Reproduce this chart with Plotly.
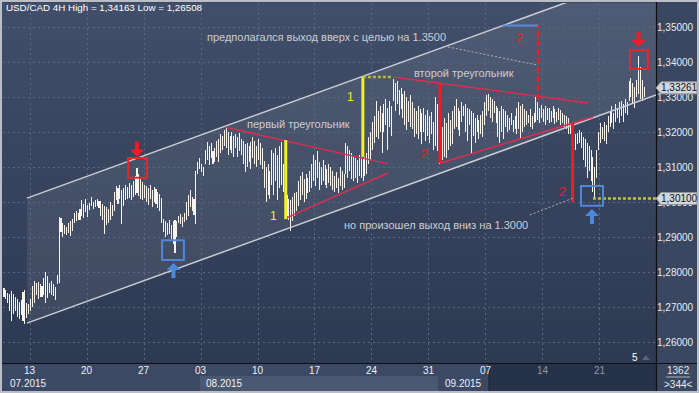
import plotly.graph_objects as go

# ---------------- data (USD/CAD 4H, bar index from left) ----------------
HIGH = [
1.2754,1.2748,1.2741,1.2736,1.2745,1.2738,1.2728,1.2722,1.2713,1.2720,1.2742,1.2748,1.2712,1.2710,1.2724,1.2760,1.2775,1.2768,1.2771,1.2765,
1.2760,1.2783,1.2800,1.2790,1.2770,1.2775,1.2765,1.2758,1.2792,1.2957,1.2955,1.2940,1.2935,1.2928,1.2940,1.2945,1.2952,1.2968,1.2975,1.2970,
1.2980,1.3005,1.2995,1.3008,1.2992,1.2998,1.3015,1.3000,1.3005,1.3010,1.3002,1.3003,1.2995,1.2990,1.2985,1.2980,1.3000,1.2992,1.3030,1.3045,
1.3040,1.3050,1.3035,1.3040,1.3048,1.3042,1.3055,1.3048,1.3060,1.3075,1.3097,1.3080,1.3065,1.3058,1.3050,1.3045,1.3040,1.3048,1.3035,1.3042,
1.3038,1.3030,1.3022,1.3012,1.2952,1.2945,1.2940,1.2950,1.2935,1.2945,1.2950,1.2945,1.2960,1.2965,1.2958,1.2970,1.3000,1.3020,1.3035,1.3015,
1.3010,1.3088,1.3115,1.3125,1.3110,1.3100,1.3150,1.3172,1.3160,1.3168,1.3145,1.3155,1.3175,1.3180,1.3195,1.3188,1.3205,1.3212,1.3200,1.3190,
1.3200,1.3190,1.3195,1.3185,1.3198,1.3180,1.3175,1.3165,1.3170,1.3160,1.3172,1.3185,1.3175,1.3160,1.3180,1.3168,1.3155,1.3118,1.3100,1.3110,
1.3090,1.3150,1.3140,1.3155,1.3135,1.3160,1.3172,1.3110,1.3080,1.3020,1.3010,1.3005,1.3015,1.3025,1.3030,1.3060,1.3075,1.3085,1.3065,1.3080,
1.3070,1.3090,1.3110,1.3135,1.3120,1.3145,1.3115,1.3100,1.3120,1.3105,1.3095,1.3110,1.3100,1.3090,1.3075,1.3085,1.3070,1.3100,1.3090,1.3080,
1.3170,1.3160,1.3150,1.3140,1.3130,1.3125,1.3120,1.3135,1.3128,1.3122,1.3130,1.3140,1.3185,1.3200,1.3230,1.3245,1.3288,1.3260,1.3275,1.3255,
1.3280,1.3295,1.3270,1.3290,1.3275,1.3351,1.3340,1.3345,1.3320,1.3325,1.3310,1.3318,1.3300,1.3290,1.3305,1.3285,1.3270,1.3260,1.3275,1.3265,
1.3255,1.3270,1.3250,1.3262,1.3245,1.3258,1.3230,1.3300,1.3280,1.3230,1.3220,1.3215,1.3240,1.3225,1.3255,1.3235,1.3260,1.3275,1.3295,1.3270,
1.3260,1.3285,1.3275,1.3280,1.3270,1.3265,1.3260,1.3255,1.3240,1.3250,1.3235,1.3248,1.3260,1.3285,1.3305,1.3310,1.3300,1.3295,1.3290,1.3275,
1.3270,1.3260,1.3275,1.3265,1.3260,1.3250,1.3240,1.3255,1.3235,1.3245,1.3270,1.3285,1.3275,1.3280,1.3265,1.3260,1.3250,1.3265,1.3245,1.3255,
1.3300,1.3285,1.3270,1.3278,1.3265,1.3275,1.3268,1.3270,1.3260,1.3275,1.3265,1.3258,1.3268,1.3262,1.3255,1.3250,1.3245,1.3240,1.3225,1.3200,
1.3190,1.3195,1.3198,1.3205,1.3200,1.3185,1.3180,1.3170,1.3160,1.3150,1.3130,1.3100,1.3150,1.3200,1.3225,1.3215,1.3230,1.3220,1.3245,1.3260,
1.3275,1.3255,1.3280,1.3270,1.3285,1.3290,1.3280,1.3295,1.3285,1.3345,1.3355,1.3340,1.3330,1.3350,1.3416,1.3385,1.3350,1.3330]
LOW = [
1.2728,1.2722,1.2712,1.2690,1.2660,1.2680,1.2688,1.2671,1.2667,1.2676,1.2660,1.2651,1.2668,1.2680,1.2690,1.2700,1.2712,1.2735,1.2722,1.2728,
1.2730,1.2735,1.2712,1.2726,1.2740,1.2735,1.2732,1.2720,1.2765,1.2770,1.2915,1.2900,1.2908,1.2905,1.2912,1.2902,1.2918,1.2940,1.2945,1.2950,
1.2948,1.2960,1.2955,1.2972,1.2958,1.2978,1.2990,1.2980,1.2985,1.2988,1.2982,1.2960,1.2950,1.2910,1.2935,1.2940,1.2950,1.2960,1.2975,1.3005,
1.2995,1.3010,1.2938,1.2990,1.3005,1.3008,1.3012,1.3005,1.3015,1.3020,1.3025,1.3018,1.3010,1.3006,1.3012,1.3000,1.2992,1.3010,1.2985,1.3000,
1.2995,1.2982,1.2975,1.2940,1.2915,1.2900,1.2905,1.2910,1.2895,1.2880,1.2854,1.2900,1.2940,1.2938,1.2930,1.2942,1.2950,1.2960,1.2985,1.2975,
1.2962,1.2938,1.3080,1.3095,1.3085,1.3075,1.3110,1.3120,1.3105,1.3125,1.3108,1.3115,1.3130,1.3115,1.3140,1.3150,1.3160,1.3155,1.3135,1.3150,
1.3140,1.3130,1.3155,1.3128,1.3145,1.3135,1.3110,1.3085,1.3100,1.3115,1.3095,1.3125,1.3110,1.3100,1.3120,1.3105,1.3095,1.3040,1.3000,1.3020,
1.3010,1.3050,1.3020,1.3060,1.3005,1.3040,1.3050,1.3030,1.2985,1.2960,1.2950,1.2918,1.2945,1.2960,1.2975,1.2990,1.3005,1.3020,1.3000,1.3010,
1.3025,1.3030,1.3040,1.3060,1.3045,1.3070,1.3035,1.3050,1.3060,1.3050,1.3040,1.3055,1.3045,1.3035,1.3030,1.3040,1.3025,1.3045,1.3035,1.3040,
1.3080,1.3070,1.3090,1.3065,1.3060,1.3070,1.3055,1.3075,1.3068,1.3060,1.3075,1.3080,1.3110,1.3120,1.3150,1.3170,1.3185,1.3180,1.3200,1.3140,
1.3200,1.3220,1.3150,1.3215,1.3190,1.3290,1.3260,1.3280,1.3250,1.3265,1.3240,1.3220,1.3205,1.3230,1.3215,1.3210,1.3185,1.3195,1.3180,1.3200,
1.3165,1.3200,1.3175,1.3190,1.3170,1.3195,1.3150,1.3160,1.3145,1.3110,1.3112,1.3120,1.3130,1.3125,1.3150,1.3160,1.3165,1.3210,1.3215,1.3205,
1.3190,1.3230,1.3245,1.3200,1.3175,1.3220,1.3137,1.3190,1.3170,1.3200,1.3180,1.3195,1.3185,1.3220,1.3245,1.3260,1.3240,1.3230,1.3255,1.3225,
1.3185,1.3170,1.3200,1.3180,1.3215,1.3200,1.3205,1.3220,1.3200,1.3210,1.3195,1.3210,1.3180,1.3200,1.3215,1.3220,1.3225,1.3215,1.3210,1.3225,
1.3230,1.3235,1.3225,1.3240,1.3230,1.3220,1.3235,1.3225,1.3230,1.3240,1.3222,1.3228,1.3235,1.3220,1.3225,1.3215,1.3210,1.3195,1.3195,1.3165,
1.3160,1.3150,1.3165,1.3170,1.3155,1.3120,1.3100,1.3068,1.3090,1.3060,1.3030,1.3012,1.3070,1.3150,1.3170,1.3180,1.3175,1.3165,1.3200,1.3215,
1.3225,1.3210,1.3230,1.3240,1.3225,1.3245,1.3230,1.3255,1.3250,1.3290,1.3300,1.3280,1.3270,1.3300,1.3310,1.3295,1.3288,1.3300]
BAR_INDEX = list(range(len(HIGH)))

SYMBOL_TITLE = "USD/CAD 4H High = 1,34163 Low = 1,26508"
LAST_PRICE = 1.33261
MARK_PRICE = 1.30100
PRICE_TICKS = [1.26, 1.27, 1.28, 1.29, 1.30, 1.31, 1.32, 1.33, 1.34, 1.35]
PRICE_LABELS = ["1,26000", "1,27000", "1,28000", "1,29000", "1,30000",
                "1,31000", "1,32000", "1,33000", "1,34000", "1,35000"]
DAY_TICKS = [13.7, 43.7, 73.7, 103.7, 133.7, 163.7, 193.7, 223.7, 253.7, 283.7, 313.7]
DAY_LABELS = ["13", "20", "27", "03", "10", "17", "24", "31", "07", "14", "21"]
MONTH_POS = [2.1, 105.3, 231.0]
MONTH_LABELS = ["07.2015", "08.2015", "09.2015"]

# channel and pattern drawings (bar index, price)
CHANNEL_X = [12.1, 343.2]
CHANNEL_LOWER = [1.2654, 1.3306]
CHANNEL_UPPER = [1.3011, 1.3663]
TRI1_UPPER = [(116.3, 1.3214), (202.1, 1.3109)]
TRI1_LOWER = [(148.4, 1.2954), (202.1, 1.3083)]
TRI2_UPPER = [(204.7, 1.3357), (307.4, 1.3283)]
TRI2_LOWER = [(229.5, 1.3111), (310.0, 1.3243)]

X_RANGE = [-0.526, 343.2]
Y_RANGE = [1.2540, 1.35686]

W, H = 699, 393
PL, PR, PT, PB = 3, 656, 3, 363   # plot area in pixels


def PX(x):
    return (x - PL) / (PR - PL)


def PY(y):
    return (PB - y) / (PB - PT)


fig = go.Figure()
fig.add_trace(go.Bar(
    x=BAR_INDEX, y=[h - l for h, l in zip(HIGH, LOW)], base=LOW,
    width=0.55, marker=dict(color="rgba(250,246,240,0.99)", line=dict(width=0)),
    hoverinfo="skip", showlegend=False))

shapes = []
# frame / panels
shapes.append(dict(type="rect", xref="paper", yref="paper", layer="below",
                   x0=PX(2), x1=PX(697), y0=PY(2), y1=PY(391),
                   fillcolor="#3a4761", line=dict(width=0)))
# plot background gradient bands
top_c = (0x41, 0x4e, 0x69)
bot_c = (0x2e, 0x39, 0x52)
NB = 30
for k in range(NB):
    t = k / (NB - 1)
    c = tuple(int(round(top_c[j] + (bot_c[j] - top_c[j]) * t)) for j in range(3))
    y0 = PT + (PB - PT) * k / NB
    y1 = PT + (PB - PT) * (k + 1) / NB
    shapes.append(dict(type="rect", xref="paper", yref="paper", layer="below",
                       x0=PX(2), x1=PX(656), y0=PY(y0), y1=PY(y1 + 0.5),
                       fillcolor="rgb(%d,%d,%d)" % c, line=dict(width=0)))
# bottom strip
shapes.append(dict(type="rect", xref="paper", yref="paper", layer="below",
                   x0=PX(2), x1=PX(656), y0=PY(364), y1=PY(391),
                   fillcolor="#3c4964", line=dict(width=0)))
shapes.append(dict(type="rect", xref="paper", yref="paper", layer="below",
                   x0=PX(200), x1=PX(438), y0=PY(376), y1=PY(391),
                   fillcolor="#4b5872", line=dict(width=0)))
shapes.append(dict(type="rect", xref="paper", yref="paper", layer="below",
                   x0=PX(489), x1=PX(656), y0=PY(364), y1=PY(391),
                   fillcolor="#26314a", line=dict(width=0)))
shapes.append(dict(type="line", xref="paper", yref="paper", layer="above",
                   x0=PX(489), x1=PX(489), y0=PY(364), y1=PY(391),
                   line=dict(color="#1a1f2c", width=1)))
shapes.append(dict(type="line", xref="paper", yref="paper", layer="above",
                   x0=PX(2), x1=PX(697), y0=PY(363.5), y1=PY(363.5),
                   line=dict(color="#0c0f16", width=1.2)))
shapes.append(dict(type="line", xref="paper", yref="paper", layer="above",
                   x0=PX(656.5), x1=PX(656.5), y0=PY(2), y1=PY(391),
                   line=dict(color="#0c0f16", width=1.2)))
shapes.append(dict(type="line", xref="paper", yref="paper", layer="above",
                   x0=PX(666), x1=PX(690), y0=PY(377), y1=PY(377),
                   line=dict(color="#aab2c2", width=1)))

# channel fill and lines
shapes.append(dict(type="path", xref="x", yref="y", layer="below",
                   path="M %g,%g L %g,%g L %g,%g L %g,%g Z" % (
                       CHANNEL_X[0], CHANNEL_LOWER[0], CHANNEL_X[1], CHANNEL_LOWER[1],
                       CHANNEL_X[1], CHANNEL_UPPER[1], CHANNEL_X[0], CHANNEL_UPPER[0]),
                   fillcolor="rgba(255,255,255,0.075)", line=dict(width=0)))
for arr in (CHANNEL_LOWER, CHANNEL_UPPER):
    shapes.append(dict(type="line", xref="x", yref="y", layer="above",
                       x0=CHANNEL_X[0], x1=CHANNEL_X[1], y0=arr[0], y1=arr[1],
                       line=dict(color="#c9cdd4", width=1.5)))

# triangles
for seg in (TRI1_UPPER, TRI1_LOWER, TRI2_UPPER, TRI2_LOWER):
    shapes.append(dict(type="line", xref="x", yref="y", layer="above",
                       x0=seg[0][0], y0=seg[0][1], x1=seg[1][0], y1=seg[1][1],
                       line=dict(color="#dc2d50", width=1.5)))

# measuring lines
def vline(x, y0, y1, color, width, dash="solid"):
    shapes.append(dict(type="line", xref="x", yref="y", layer="above",
                       x0=x, x1=x, y0=y0, y1=y1,
                       line=dict(color=color, width=width, dash=dash)))


def hline(x0, x1, y, color, width, dash="solid"):
    shapes.append(dict(type="line", xref="x", yref="y", layer="above",
                       x0=x0, x1=x1, y0=y, y1=y,
                       line=dict(color=color, width=width, dash=dash)))


vline(148.3, 1.2951, 1.3177, "#f2f21e", 3)
vline(188.9, 1.3129, 1.3357, "#f2f21e", 3)
hline(188.9, 204.2, 1.3357, "#b9b93c", 2.5, "3px,2px")
vline(229.5, 1.3111, 1.3338, "#ee1c24", 3)
vline(281.1, 1.3292, 1.3506, "#ee1c24", 2.5, "6px,3px")
hline(262.6, 281.1, 1.3504, "#5b8ad6", 2)
vline(299.3, 1.3000, 1.3226, "#ee1c24", 3)
hline(310.0, 343.2, MARK_PRICE, "#c4c43a", 2.5, "3px,2px")
# gray dotted pointers
shapes.append(dict(type="line", xref="x", yref="y", layer="above",
                   x0=233.7, y0=1.3443, x1=281.1, y1=1.3391,
                   line=dict(color="#aeb3bd", width=1, dash="2px,2px")))
shapes.append(dict(type="line", xref="x", yref="y", layer="above",
                   x0=276.8, y0=1.2963, x1=299.5, y1=1.3011,
                   line=dict(color="#aeb3bd", width=1, dash="2px,2px")))

# boxes
for (x0, x1, y0, y1, col) in [(65.3, 75.3, 1.3069, 1.3126, "#e8262c"),
                              (329.5, 338.9, 1.3380, 1.3434, "#e8262c"),
                              (83.2, 94.7, 1.2834, 1.2891, "#4f88da"),
                              (303.7, 315.3, 1.2989, 1.3046, "#4f88da")]:
    shapes.append(dict(type="rect", xref="x", yref="y", layer="above",
                       x0=x0, x1=x1, y0=y0, y1=y1,
                       line=dict(color=col, width=2), fillcolor="rgba(0,0,0,0)"))

DOWN_ARROW = "M -2,15 L 2,15 L 2,7 L 7,7 L 0,0 L -7,7 L -2,7 Z"
UP_ARROW = "M -2,-15 L 2,-15 L 2,-7 L 7,-7 L 0,0 L -7,-7 L -2,-7 Z"
for (xa, ya, p, col) in [(70.0, 1.3129, DOWN_ARROW, "#ee1c24"),
                         (334.0, 1.3443, DOWN_ARROW, "#ee1c24"),
                         (89.2, 1.2826, UP_ARROW, "#4f88da"),
                         (309.5, 1.2980, UP_ARROW, "#4f88da")]:
    shapes.append(dict(type="path", xref="x", yref="y", layer="above",
                       xsizemode="pixel", ysizemode="pixel", xanchor=xa, yanchor=ya,
                       path=p, fillcolor=col, line=dict(width=0)))

# price tags on the right axis
TAG = "M 0,0 L 5,6 L 41,6 L 41,-6 L 5,-6 Z"
for pr in (LAST_PRICE, MARK_PRICE):
    shapes.append(dict(type="path", xref="paper", yref="y", layer="above",
                       xsizemode="pixel", ysizemode="pixel", xanchor=1.0, yanchor=pr,
                       path=TAG, fillcolor="#d3d6db", line=dict(color="#8e939c", width=1)))
# small triangle near the "5"
shapes.append(dict(type="path", xref="paper", yref="paper", layer="above",
                   xsizemode="pixel", ysizemode="pixel", xanchor=PX(646), yanchor=PY(357),
                   path="M -4,-3 L 4,-3 L 0,2 Z", fillcolor="#59627a", line=dict(width=0)))

annotations = []
FONT = "Liberation Sans, Arial, sans-serif"


def txt(x, y, s, color, size, xref="x", yref="y", xanchor="left", yanchor="middle"):
    annotations.append(dict(x=x, y=y, xref=xref, yref=yref, text=s, showarrow=False,
                            xanchor=xanchor, yanchor=yanchor,
                            font=dict(family=FONT, size=size, color=color)))


txt(PX(4), PY(8), SYMBOL_TITLE, "#ffffff", 9.8, "paper", "paper")
txt(105.8, 1.3471, "предполагался выход вверх с целью на 1.3500", "#c9cdd5", 11)
txt(214.7, 1.3369, "второй треугольник", "#c9cdd5", 11)
txt(126.8, 1.3223, "первый треугольник", "#c9cdd5", 11)
txt(177.9, 1.2934, "но произошел выход вниз на 1.3000", "#c9cdd5", 11)
txt(142.1, 1.2961, "1", "#f2f21e", 12, xanchor="center")
txt(182.5, 1.3301, "1", "#f2f21e", 12, xanchor="center")
txt(221.6, 1.3140, "2", "#ee1c24", 13, xanchor="center")
txt(271.6, 1.3469, "2", "#ee1c24", 13, xanchor="center")
txt(294.1, 1.3031, "2", "#ee1c24", 13, xanchor="center")

for pr, s in ((LAST_PRICE, "1,33261"), (MARK_PRICE, "1,30100")):
    annotations.append(dict(x=1.0, y=pr, xref="paper", yref="y", text=s, showarrow=False,
                            xanchor="center", yanchor="middle", xshift=23,
                            font=dict(family=FONT, size=10, color="#111111")))

for pos, lab in zip(DAY_TICKS, DAY_LABELS):
    col = "#8f98aa" if lab in ("14", "21") else "#eef1f6"
    txt(pos, PY(370), lab, col, 10, "x", "paper", xanchor="center")
for pos, lab in zip(MONTH_POS, MONTH_LABELS):
    txt(pos, PY(383.5), lab, "#eef1f6", 10, "x", "paper", xanchor="left")
txt(PX(635), PY(357), "5", "#ffffff", 10, "paper", "paper", xanchor="center")
txt(PX(678), PY(370.5), "1362", "#e6eaf0", 10, "paper", "paper", xanchor="center")
txt(PX(678), PY(384), ">344<", "#e6eaf0", 10, "paper", "paper", xanchor="center")

fig.update_layout(
    width=W, height=H,
    margin=dict(l=PL, r=W - PR, t=PT, b=H - PB, pad=0),
    paper_bgcolor="#b9bec7", plot_bgcolor="rgba(0,0,0,0)",
    showlegend=False, bargap=0,
    shapes=shapes, annotations=annotations,
    xaxis=dict(range=X_RANGE, tickvals=DAY_TICKS, showticklabels=False, ticks="",
               showgrid=True, gridcolor="#5a6782", griddash="2px,3px", gridwidth=1,
               zeroline=False, showline=False, fixedrange=True),
    yaxis=dict(range=Y_RANGE, side="right", tickvals=PRICE_TICKS, ticktext=PRICE_LABELS,
               ticks="", tickfont=dict(family=FONT, size=10, color="#e8ecf2"),
               showgrid=True, gridcolor="#5a6782", griddash="2px,3px", gridwidth=1,
               zeroline=False, showline=False, fixedrange=True),
)
fig.write_html("out.html", config={"displayModeBar": False},
               post_script="document.body.style.margin='0px';document.body.style.overflow='hidden';")
